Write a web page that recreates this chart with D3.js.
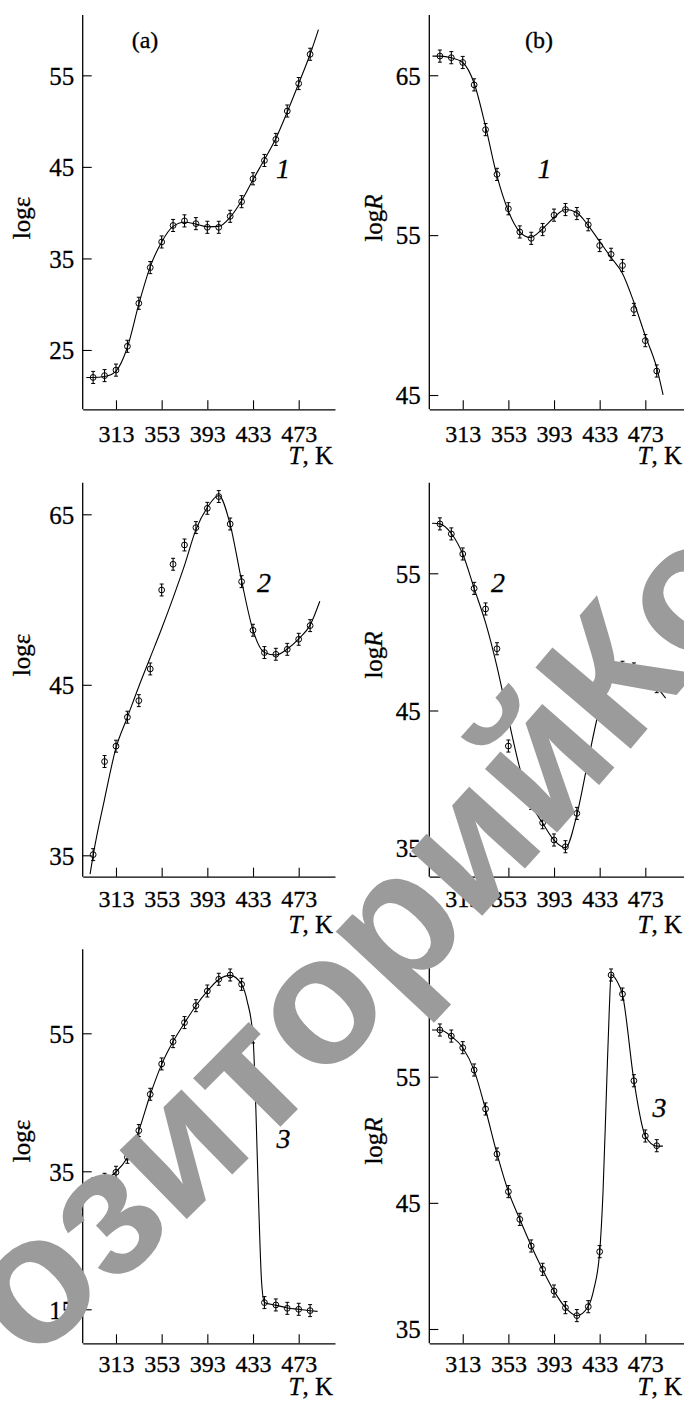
<!DOCTYPE html>
<html><head><meta charset="utf-8">
<script src="https://cdn.jsdelivr.net/npm/d3@7"></script>
<style>body{margin:0;background:#fff}svg{display:block}
.serif{font-family:'Liberation Serif','Times New Roman',serif;stroke:#000;stroke-width:0.3px}</style>
</head><body>
<svg id="c" width="684" height="1401"></svg>
<script>
// ---- data ----
const temps = [293,303,313,323,333,343,353,363,373,383,393,403,413,423,433,443,453,463,473,483];
const xTicks = [313,353,393,433,473];

// (a) log eps, sample 1
const epsA1 = [22.0,22.2,22.8,25.4,30.1,34.0,36.8,38.6,39.1,38.8,38.4,38.4,39.6,41.2,43.7,45.7,48.0,51.1,54.1,57.3];
const curveA1T = [287,293,303,313,323,333,343,353,363,373,383,393,403,413,423,433,443,453,463,473,483,490.3];
const curveA1V = [22.0,22.0,22.1,22.7,25.3,30.0,34.1,36.8,38.5,38.95,38.75,38.45,38.5,39.5,41.3,43.6,45.8,48.1,51.0,54.1,57.3,60.0];
const yTicksA1 = [25,35,45,55];
const yLabelsA1 = ["25","35","45","55"];

// (b) log R, sample 1
const rB1 = [66.2,66.1,65.8,64.4,61.6,58.8,56.65,55.2,54.8,55.35,56.25,56.6,56.35,55.65,54.35,53.8,53.1,50.35,48.4,46.5];
const curveB1T = [286.5,293,303,313,323,333,343,353,363,372,383,393,403,413,423,433,443,453,463,473,483,488.6];
const curveB1V = [66.2,66.2,66.1,65.8,64.5,61.8,58.7,56.5,55.2,54.85,55.4,56.1,56.6,56.4,55.6,54.6,53.6,52.6,50.8,48.7,46.7,45.0];
const yTicksB1 = [45,55,65];
const yLabelsB1 = ["45","55","65"];

// (a) log eps, sample 2 (tick labels as printed in the original figure)
const epsA2 = [45.04,50.5,51.4,53.1,54.07,55.93,60.56,62.07,63.2,64.22,65.35,66.04,64.43,61.05,58.2,56.89,56.79,57.08,57.67,58.47];
const curveA2T = [290.3,293,303,313,323,333,343,353,363,373,383,393,403,413,423,433,443,453,463,473,483,491.5];
const curveA2V = [43.9,45.0,48.3,51.3,53.1,54.9,56.6,58.3,60.1,62.0,64.1,65.4,66.1,64.4,61.1,58.2,56.9,56.75,57.1,57.7,58.5,59.9];
const yTicksA2 = [45,55,65];
const yLabelsA2 = ["35","45","65"];

// (b) log R, sample 2
const rB2 = [58.6,57.87,56.41,53.9,52.4,49.5,42.41,40.0,38.23,36.82,35.56,35.07,37.5,41.44,45.28,47.59,48.15,48.03,47.54,46.74];
const curveB2T = [286.1,293,303,313,323,333,343,353,363,373,383,393,403,413,423,433,443,453,463,473,483,490.8];
const curveB2V = [58.65,58.6,57.9,56.4,53.9,51.4,48.2,44.4,40.8,38.2,36.8,35.55,35.0,37.4,41.4,45.2,47.6,48.15,48.05,47.5,46.7,45.9];
const yTicksB2 = [35,45,55];
const yLabelsB2 = ["35","45","55"];

// (a) log eps, sample 3
const epsA3 = [33.16,33.84,34.86,37.03,40.9,46.16,50.56,53.79,56.55,59.0,61.13,62.83,63.45,62.1,54.47,15.97,15.63,15.14,15.0,14.81];
const curveA3T = [286,293,303,313,323,333,343,353,363,373,383,393,403,413,423,428,433,435.5,438,440.5,443,453,463,473,483,489.5];
const curveA3V = [33.2,33.2,33.8,34.9,37.0,40.9,46.1,50.5,53.8,56.5,59.0,61.1,62.8,63.4,62.1,59.6,54.5,44,30,19,16.0,15.6,15.2,15.0,14.8,14.7];
const yTicksA3 = [15,35,55];
const yLabelsA3 = ["15","35","55"];

// (b) log R, sample 3
const rB3 = [58.7,58.22,57.3,55.53,52.44,48.87,45.89,43.69,41.58,39.73,38.01,36.69,36.06,36.77,41.13,63.06,61.55,54.68,50.3,49.53];
const curveB3T = [286.1,293,303,313,323,333,343,353,363,373,383,393,403,413,423,428,433,436,439,441.5,443,448,453,463,473,483,488.4];
const curveB3V = [58.7,58.7,58.2,57.3,55.5,52.4,48.9,45.9,43.7,41.6,39.7,38.0,36.7,36.05,36.8,38.2,41.1,46,54,60.5,63.1,62.6,61.5,54.7,50.3,49.5,49.5];
const yTicksB3 = [35,45,55];
const yLabelsB3 = ["35","45","55"];

const errs = [0.66,0.38,0.35,0.44,0.87,0.48];
const curveNames = ["1","1","2","2","3","3"];
const panelHeads = ["(a)","(b)"];
const watermarkText = "озиторий Ко";

// ---- layout ----
const svg = d3.select("#c");
const cols = [{x0:82.7,x1:335,t0:283.85,t1:504.8,hx:145,lx:29.5},{x0:429.3,x1:684,t0:283.7,t1:506.9,hx:539,lx:381.5}];
const rows = [{top:15,bottom:409.3,tk:55,tl:32.5,ly:218},{top:482.7,bottom:876.7,tk:56,tl:30.5,ly:655},{top:949.3,bottom:1343.3,tk:52,tl:29,ly:1141}];
const yDomains = [[18.52,61.59],[44.105,68.77],[43.745,66.853],[32.886,61.603],[10.072,67.174],[33.866,65.099]];
const labelPos = [[283,178],[544.5,178],[264,592],[498,592],[283.5,1148],[659.5,1117]];

const panels = [
  {pts:epsA1,cT:curveA1T,cV:curveA1V,tv:yTicksA1,tl:yLabelsA1,c:0,r:0,ylab:"eps"},
  {pts:rB1,cT:curveB1T,cV:curveB1V,tv:yTicksB1,tl:yLabelsB1,c:1,r:0,ylab:"R"},
  {pts:epsA2,cT:curveA2T,cV:curveA2V,tv:yTicksA2,tl:yLabelsA2,c:0,r:1,ylab:"eps"},
  {pts:rB2,cT:curveB2T,cV:curveB2V,tv:yTicksB2,tl:yLabelsB2,c:1,r:1,ylab:"R"},
  {pts:epsA3,cT:curveA3T,cV:curveA3V,tv:yTicksA3,tl:yLabelsA3,c:0,r:2,ylab:"eps"},
  {pts:rB3,cT:curveB3T,cV:curveB3V,tv:yTicksB3,tl:yLabelsB3,c:1,r:2,ylab:"R"}
];

panels.forEach((p,i)=>{
  const col = cols[p.c], row = rows[p.r];
  const x = d3.scaleLinear().domain([col.t0,col.t1]).range([col.x0,col.x1]);
  const y = d3.scaleLinear().domain(yDomains[i]).range([row.bottom,row.top]);
  const g = svg.append("g");

  const xa = g.append("g").attr("transform",`translate(0,${row.bottom})`)
    .call(d3.axisBottom(x).tickValues(xTicks).tickSize(-9).tickSizeOuter(0).tickPadding(0).tickFormat(d3.format("d")));
  xa.attr("font-family",null).attr("font-size",null);
  xa.selectAll("text").attr("dy",null).attr("y",row.tl).attr("class","serif").style("font-size","24px").attr("fill","#000");
  const ya = g.append("g").attr("transform",`translate(${col.x0},0)`)
    .call(d3.axisLeft(y).tickValues(p.tv).tickSize(-9).tickSizeOuter(0).tickPadding(8.5).tickFormat((d,k)=>p.tl[k]));
  ya.attr("font-family",null).attr("font-size",null);
  ya.selectAll("text").attr("class","serif").style("font-size","25px").attr("fill","#000").attr("dy","0.35em");
  xa.select(".domain").attr("stroke","#000").attr("stroke-width",1.3);
  g.selectAll(".tick line").attr("stroke","#000").attr("stroke-width",1.1);
  ya.select(".domain").remove();
  g.append("line").attr("x1",col.x0).attr("x2",col.x0).attr("y1",row.top).attr("y2",row.bottom)
    .attr("stroke","#000").attr("stroke-width",1.3);

  g.append("text").attr("x",col.x1-2).attr("y",row.bottom+row.tk).attr("text-anchor","end")
    .attr("class","serif").style("font-size","25px")
    .html('<tspan font-style="italic">T</tspan>, K');
  const yl = g.append("text").attr("transform",`translate(${col.lx},${row.ly}) rotate(-90)`)
    .attr("text-anchor","middle").attr("class","serif").style("font-size","25px");
  if (p.ylab==="eps") yl.text("logε");
  else yl.html('log<tspan font-style="italic">R</tspan>');
  if (p.r===0) g.append("text").attr("x",col.hx).attr("y",48).attr("text-anchor","middle")
     .attr("class","serif").style("font-size","24px").text(panelHeads[p.c]);

  const line = d3.line().x(d=>x(d[0])).y(d=>y(d[1])).curve(d3.curveMonotoneX);
  g.append("path").datum(p.cT.map((t,k)=>[t,p.cV[k]])).attr("d",line)
    .attr("fill","none").attr("stroke","#000").attr("stroke-width",1.1);

  const e = errs[i];
  const pg = g.append("g").selectAll("g").data(p.pts.map((v,k)=>[temps[k],v])).join("g");
  pg.append("line").attr("x1",d=>x(d[0])).attr("x2",d=>x(d[0])).attr("y1",d=>y(d[1]-e)).attr("y2",d=>y(d[1]+e))
    .attr("stroke","#000").attr("stroke-width",1.1);
  [-1,1].forEach(s=>pg.append("line").attr("x1",d=>x(d[0])-2).attr("x2",d=>x(d[0])+2)
    .attr("y1",d=>y(d[1]+s*e)).attr("y2",d=>y(d[1]+s*e)).attr("stroke","#000").attr("stroke-width",1));
  pg.append("circle").attr("cx",d=>x(d[0])).attr("cy",d=>y(d[1])).attr("r",2.9)
    .attr("fill","none").attr("stroke","#000").attr("stroke-width",1);

  g.append("text").attr("x",labelPos[i][0]).attr("y",labelPos[i][1]).attr("text-anchor","middle")
    .attr("class","serif").attr("font-style","italic").style("font-size","28px").text(curveNames[i]);
});

// watermark: letters placed one by one along an arc
const wmPath = svg.append("path").attr("d","M 30 1365 Q 495 945 915 400")
  .attr("fill","none").attr("stroke","none").node();
let s = 0;
const wmg = svg.append("g").attr("fill","#9b9b9b");
for (const ch of watermarkText) {
  const t = wmg.append("text").style("font-family","'Liberation Sans',Arial,sans-serif")
    .style("font-weight","bold").style("font-size","182px").text(ch);
  const w = t.node().getComputedTextLength();
  const p = wmPath.getPointAtLength(s + w/2);
  const p2 = wmPath.getPointAtLength(s + w/2 + 1);
  const ang = Math.atan2(p2.y-p.y, p2.x-p.x)*180/Math.PI;
  t.attr("text-anchor","middle").attr("transform",`translate(${p.x},${p.y}) rotate(${ang})`);
  if (ch === " ") t.remove();
  s += w;
}
</script>
</body></html>
